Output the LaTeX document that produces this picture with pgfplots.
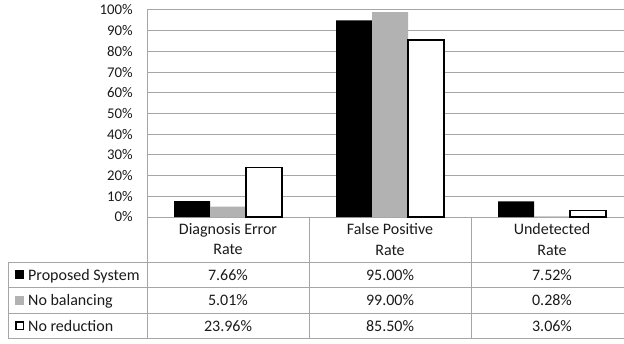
\documentclass[border=0pt]{standalone}
\usepackage{pgfplots}
\pgfplotsset{compat=1.18}
\usepackage{pgfplotstable}
\usepackage{fontspec}
\setmainfont{Carlito}

\definecolor{gridgray}{HTML}{A6A6A6}
\definecolor{bargray}{HTML}{B2B2B2}
\definecolor{txt}{HTML}{1A1A1A}

% rates in percent, one row per category
\pgfplotstableread{
x proposed nobal noreduc
0 7.66 5.01 23.96
1 95.00 99.00 85.50
2 7.52 0.28 3.06
}\rates

\begin{document}
\begin{tikzpicture}[x=1bp, y=1bp, font=\fontsize{16bp}{20bp}\selectfont, text=txt]
\useasboundingbox (0,0) rectangle (624,343);
\begin{axis}[
  at={(147bp,126bp)}, anchor=south west,
  scale only axis, width=486bp, height=207bp,
  ybar=0pt, bar width=36bp,
  xmin=-0.5, xmax=2.5, ymin=0, ymax=100,
  xtick=\empty,
  ytick={0,10,...,100},
  yticklabel={\pgfmathprintnumber{\tick}\%},
  /pgf/number format/assume math mode=true,
  yticklabel style={inner sep=0pt, xshift=-14bp, text=txt,
    font=\fontsize{14.8bp}{18bp}\selectfont},
  major tick length=0pt,
  ymajorgrids,
  grid style={gridgray, line width=1bp},
  axis lines*=left,
  axis line style={gridgray, line width=1bp},
  clip=false,
]
\addplot[fill=black, draw=none] table[x=x, y=proposed]{\rates};
\addplot[fill=bargray, draw=none] table[x=x, y=nobal]{\rates};
\addplot[fill=white, draw=black, line width=1.5bp] table[x=x, y=noreduc]{\rates};
\end{axis}

% data table below the plot
\begin{scope}[gridgray, line width=1bp]
  \draw (8,81) -- (624,81);
  \draw (8,56) -- (624,56);
  \draw (8,30) -- (624,30);
  \draw (8,5) -- (624,5);
  \draw (8,81) -- (8,5);
  \draw (147,126) -- (147,5);
  \draw (309,126) -- (309,5);
  \draw (471,126) -- (471,5);
\end{scope}

% column headers
\node[align=center] at (228,103.5) {Diagnosis Error\\Rate};
\node[align=center] at (390,103.5) {False Positive\\Rate};
\node[align=center] at (552,103.5) {Undetected\\Rate};

% row keys and names
\fill[black] (15,64) rectangle (24,73);
\fill[bargray] (15,38.5) rectangle (24,47.5);
\draw[black, line width=1.5bp] (15.75,13.75) rectangle (23.25,21.25);
\node[anchor=base west, inner sep=0pt] at (28,63) {Proposed System};
\node[anchor=base west, inner sep=0pt] at (28,37.5) {No balancing};
\node[anchor=base west, inner sep=0pt] at (28,12) {No reduction};

% values
\node[anchor=base] at (228,63) {7.66\%};
\node[anchor=base] at (390,63) {95.00\%};
\node[anchor=base] at (552,63) {7.52\%};
\node[anchor=base] at (228,37.5) {5.01\%};
\node[anchor=base] at (390,37.5) {99.00\%};
\node[anchor=base] at (552,37.5) {0.28\%};
\node[anchor=base] at (228,12) {23.96\%};
\node[anchor=base] at (390,12) {85.50\%};
\node[anchor=base] at (552,12) {3.06\%};
\end{tikzpicture}
\end{document}
